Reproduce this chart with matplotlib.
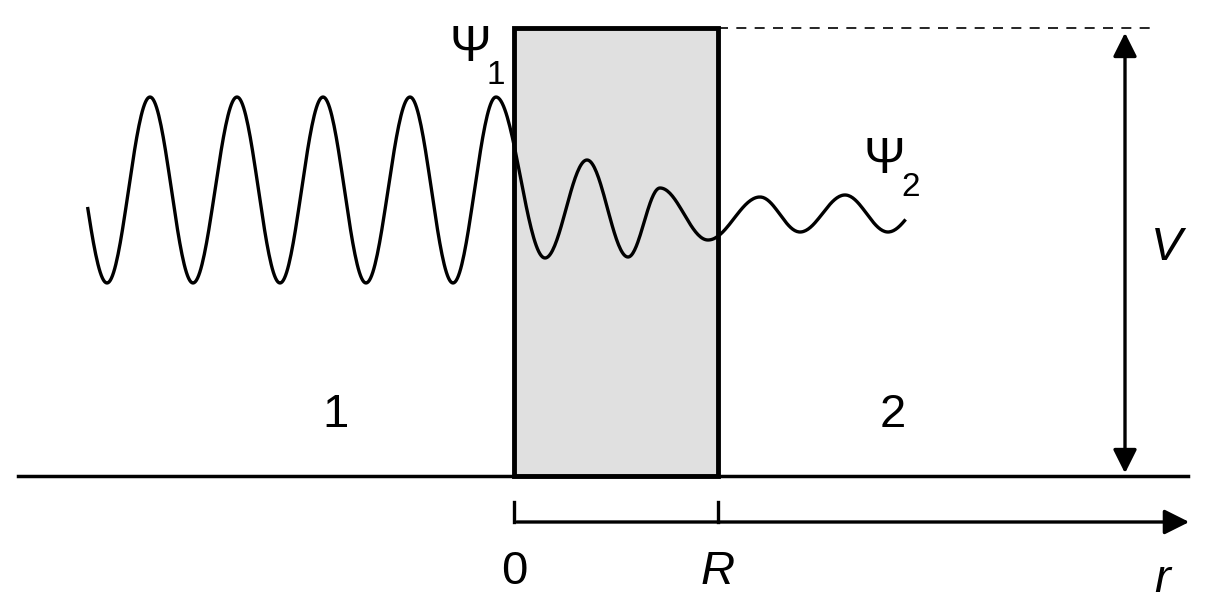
import numpy as np
import matplotlib.pyplot as plt
from matplotlib.patches import Rectangle, FancyArrowPatch

plt.rcParams['font.family'] = ['Liberation Sans', 'DejaVu Sans']

# wave extrema (x, y in pixel units, y down)
ext_x = [63, 107, 150, 193, 237, 280, 323, 366, 410, 453, 496,
         545, 587, 628, 660, 708, 760, 800, 845, 888, 931]
ext_y = [97, 283, 97, 283, 97, 283, 97, 283, 97, 283, 97,
         258, 160, 257, 188, 240, 197, 232, 195, 232, 197]
wave_start, wave_end = 87, 905

barrier_left, barrier_right = 514, 718
barrier_top, ground = 28, 476
axis_y = 522

fig = plt.figure(figsize=(12.12, 6.15), dpi=100)
ax = fig.add_axes([0, 0, 1, 1])
ax.set_xlim(0, 1212)
ax.set_ylim(615, 0)
ax.axis('off')

# barrier
ax.add_patch(Rectangle((barrier_left, barrier_top), barrier_right - barrier_left,
                       ground - barrier_top, facecolor='#e0e0e0',
                       edgecolor='black', lw=3.5, zorder=1))
ax.plot([18, 1188], [ground, ground], color='black', lw=2.5, zorder=2)
ax.plot([barrier_right, 1158], [barrier_top, barrier_top], color='black',
        lw=1.2, ls=(0, (6, 5)))

# wave: half-cosine segments between extrema
xs, ys = [], []
for i in range(len(ext_x) - 1):
    t = np.linspace(0, 1, 40)
    x = ext_x[i] + (ext_x[i + 1] - ext_x[i]) * t
    y = ext_y[i] + (ext_y[i + 1] - ext_y[i]) * (1 - np.cos(np.pi * t)) / 2
    xs.append(x)
    ys.append(y)
xs = np.concatenate(xs)
ys = np.concatenate(ys)
m = (xs >= wave_start) & (xs <= wave_end)
ax.plot(xs[m], ys[m], color='black', lw=2.4, zorder=3)

# V arrow
ax.add_patch(FancyArrowPatch((1125, ground), (1125, barrier_top + 2),
                             arrowstyle='<|-|>', mutation_scale=36,
                             color='black', lw=2.4))

# r axis
ax.add_patch(FancyArrowPatch((barrier_left, axis_y), (1192, axis_y),
                             arrowstyle='-|>', mutation_scale=38,
                             color='black', lw=2.4))
for xt in (barrier_left, barrier_right):
    ax.plot([xt, xt], [axis_y - 20, axis_y], color='black', lw=2.4)

fs = 34
ax.text(barrier_left, 572, '0', fontsize=fs, ha='center', va='center')
ax.text(barrier_right, 572, 'R', fontsize=fs, ha='center', va='center', style='italic')
ax.text(1162, 580, 'r', fontsize=fs, ha='center', va='center', style='italic')
ax.text(1167, 248, 'V', fontsize=fs, ha='center', va='center', style='italic')
ax.text(335, 415, '1', fontsize=fs, ha='center', va='center')
ax.text(893, 415, '2', fontsize=fs, ha='center', va='center')
ax.text(470, 48, 'Ψ', fontsize=36, ha='center', va='center')
ax.text(496, 75, '1', fontsize=24, ha='center', va='center')
ax.text(884, 160, 'Ψ', fontsize=36, ha='center', va='center')
ax.text(911, 187, '2', fontsize=24, ha='center', va='center')

fig.savefig('out.png', dpi=100)
